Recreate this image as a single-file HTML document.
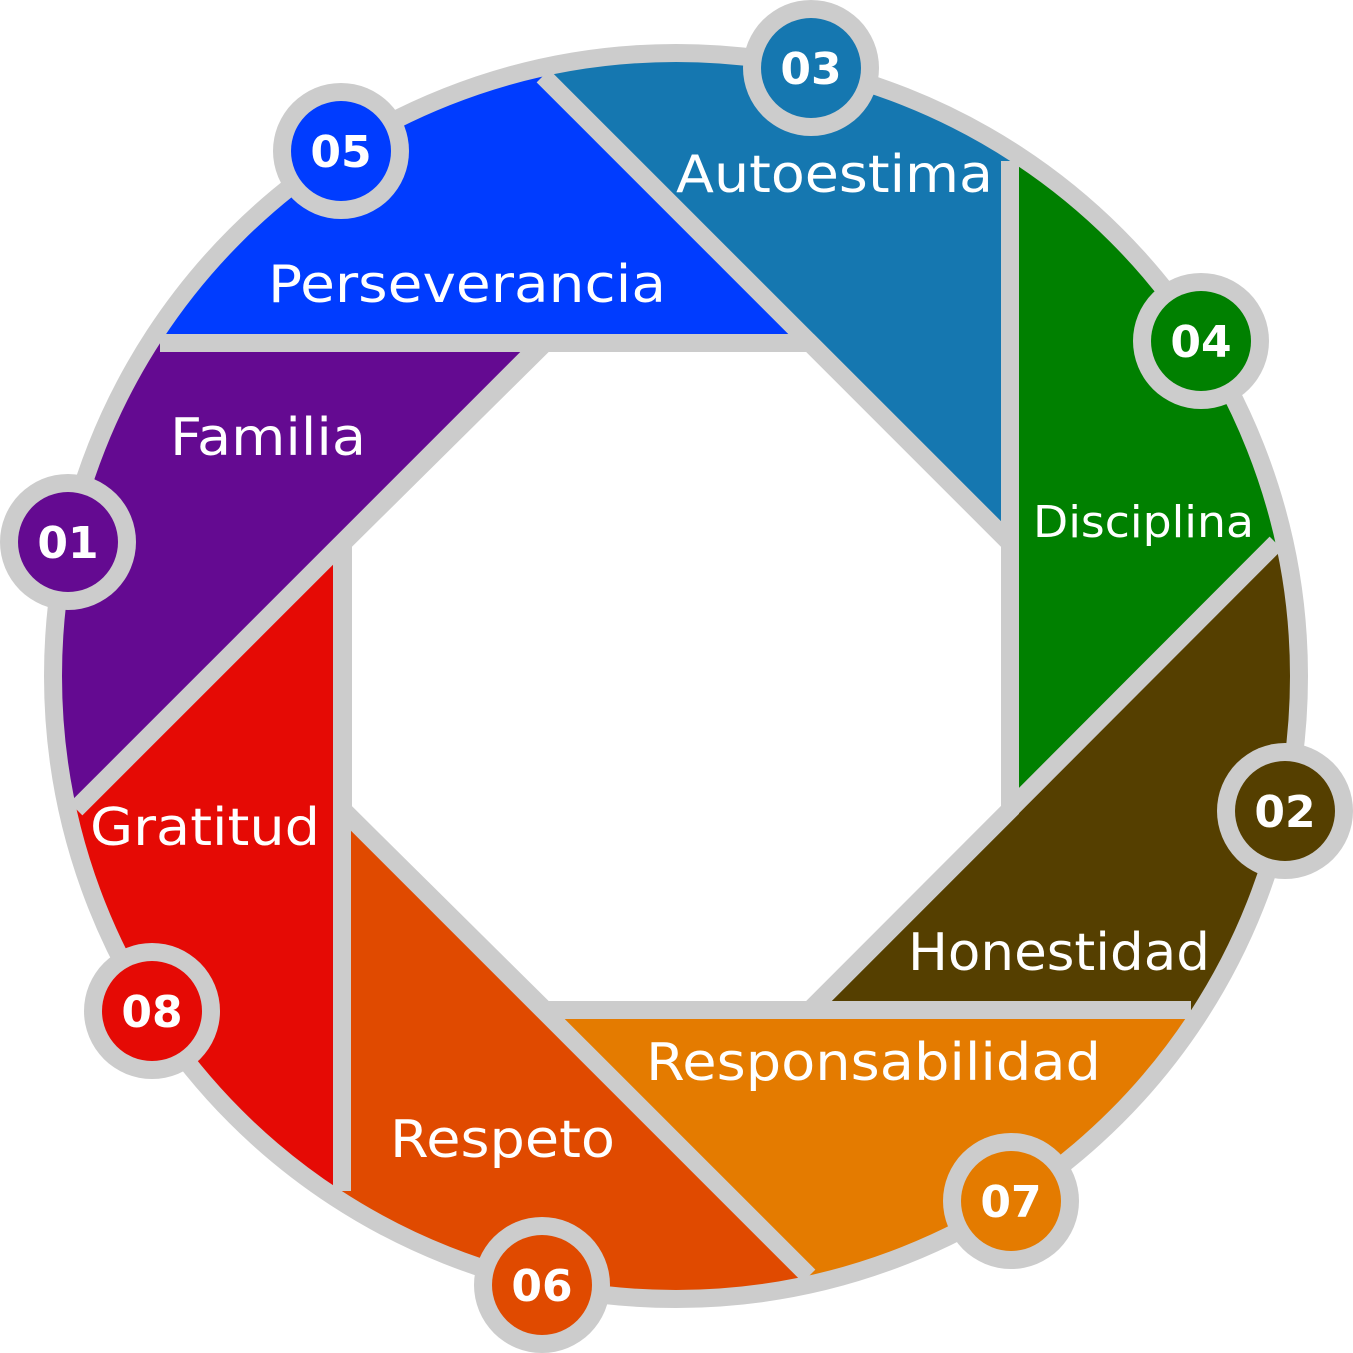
<!DOCTYPE html>
<html><head><meta charset="utf-8"><style>html,body{margin:0;padding:0;background:#fff;overflow:hidden;width:1353px;height:1353px}svg{display:block}</style></head>
<body>
<svg width="1353" height="1353" viewBox="0 0 1353 1353" xmlns="http://www.w3.org/2000/svg">
<defs><clipPath id="c"><circle cx="676" cy="676" r="624"/></clipPath></defs>
<g clip-path="url(#c)">
<polygon fill="#003cff" points="810,343 233,-234 -300,-234 -300,343"/>
<polygon fill="#1577b0" points="1010,543 233,-234 1010,-234"/>
<polygon fill="#008000" points="1010,810 1010,-300 1700,-300 1700,120"/>
<polygon fill="#553f00" points="810,1010 1700,120 1700,1010"/>
<polygon fill="#e47b00" points="543,1010 1800,1010 1800,2267"/>
<polygon fill="#e04a00" points="342,809 1800,2267 342,2267"/>
<polygon fill="#e50a05" points="342,543 -500,1385 -500,2300 342,2300"/>
<polygon fill="#640a91" points="543,342 -500,1385 -500,342"/>
</g>
<polygon fill="#fff" points="545,343 810,343 1010,543 1010,810 810,1010 545,1010 343,810 343,543"/>
<g stroke="#cccccc" stroke-width="18" fill="none">
<polygon points="545,343 810,343 1010,543 1010,810 810,1010 545,1010 343,810 343,543"/>
<line x1="810" y1="343" x2="160" y2="343"/>
<line x1="1010" y1="543" x2="543" y2="76"/>
<line x1="1010" y1="810" x2="1010" y2="161"/>
<line x1="810" y1="1010" x2="1276" y2="543"/>
<line x1="543" y1="1010" x2="1191" y2="1010"/>
<line x1="342" y1="809" x2="809" y2="1276"/>
<line x1="342" y1="543" x2="342" y2="1191"/>
<line x1="543" y1="342" x2="76" y2="809"/>
<circle cx="676" cy="676" r="623"/>
</g>
<g font-family="DejaVu Sans, Liberation Sans, sans-serif" font-size="52" fill="#fff">
<text x="268" y="302" textLength="398" lengthAdjust="spacingAndGlyphs">Perseverancia</text>
<text x="676" y="192" textLength="317" lengthAdjust="spacingAndGlyphs">Autoestima</text>
<text x="170" y="455" textLength="196" lengthAdjust="spacingAndGlyphs">Familia</text>
<text x="1033" y="537" font-size="44" textLength="221" lengthAdjust="spacingAndGlyphs">Disciplina</text>
<text x="908" y="970" textLength="302" lengthAdjust="spacingAndGlyphs">Honestidad</text>
<text x="646" y="1080" textLength="455" lengthAdjust="spacingAndGlyphs">Responsabilidad</text>
<text x="390" y="1157" textLength="225" lengthAdjust="spacingAndGlyphs">Respeto</text>
<text x="90" y="845" textLength="230" lengthAdjust="spacingAndGlyphs">Gratitud</text>
</g>
<g font-family="DejaVu Sans, Liberation Sans, sans-serif" font-weight="bold" font-size="44" fill="#fff" text-anchor="middle">
<circle cx="341" cy="151" r="68" fill="#cccccc"/><circle cx="341" cy="151" r="50" fill="#003cff"/><text x="341" y="167">05</text>
<circle cx="811" cy="68" r="68" fill="#cccccc"/><circle cx="811" cy="68" r="50" fill="#1577b0"/><text x="811" y="84">03</text>
<circle cx="1201" cy="341" r="68" fill="#cccccc"/><circle cx="1201" cy="341" r="50" fill="#008000"/><text x="1201" y="357">04</text>
<circle cx="1285" cy="811" r="68" fill="#cccccc"/><circle cx="1285" cy="811" r="50" fill="#553f00"/><text x="1285" y="827">02</text>
<circle cx="1011" cy="1201" r="68" fill="#cccccc"/><circle cx="1011" cy="1201" r="50" fill="#e47b00"/><text x="1011" y="1217">07</text>
<circle cx="542" cy="1285" r="68" fill="#cccccc"/><circle cx="542" cy="1285" r="50" fill="#e04a00"/><text x="542" y="1301">06</text>
<circle cx="152" cy="1011" r="68" fill="#cccccc"/><circle cx="152" cy="1011" r="50" fill="#e50a05"/><text x="152" y="1027">08</text>
<circle cx="68" cy="542" r="68" fill="#cccccc"/><circle cx="68" cy="542" r="50" fill="#640a91"/><text x="68" y="558">01</text>
</g>
</svg>
</body></html>
